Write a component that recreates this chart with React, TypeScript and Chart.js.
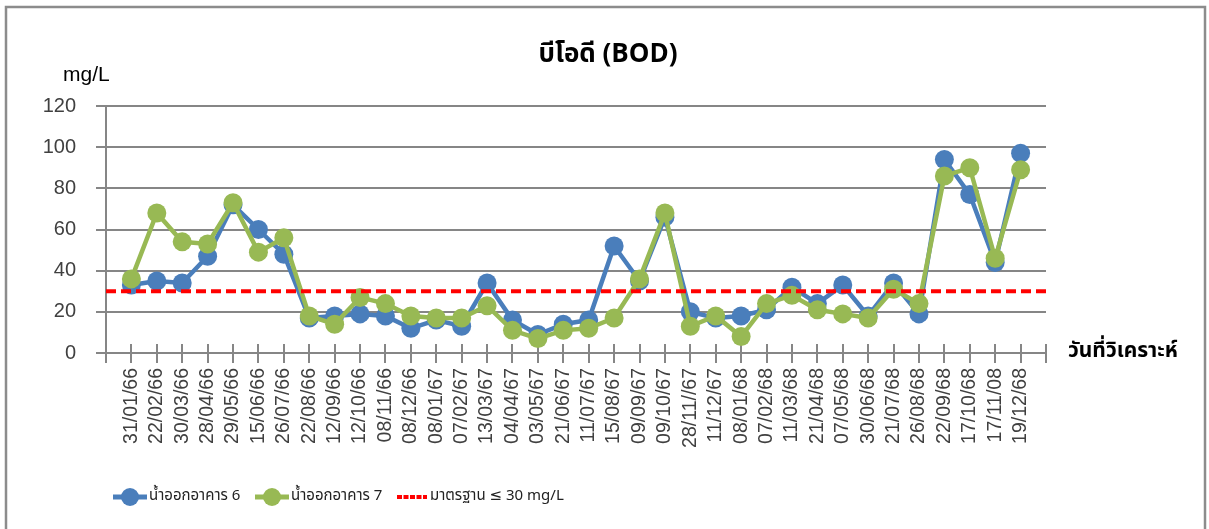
import React, { useEffect, useRef } from 'react';
import { Chart, registerables } from 'chart.js';

Chart.register(...registerables);

// ---------- data ----------
const dates = [
  '31/01/66', '22/02/66', '30/03/66', '28/04/66', '29/05/66', '15/06/66', '26/07/66', '22/08/66', '12/09/66',
  '12/10/66', '08/11/66', '08/12/66', '08/01/67', '07/02/67', '13/03/67', '04/04/67', '03/05/67', '21/06/67',
  '11/07/67', '15/08/67', '09/09/67', '09/10/67', '28/11//67', '11/12/67', '08/01/68', '07/02/68', '11/03/68',
  '21/04/68', '07/05/68', '30/06/68', '21/07/68', '26/08/68', '22/09/68', '17/10/68', '17/11/08', '19/12/68',
];
const building6 = [33, 35, 34, 47, 72, 60, 48, 17, 18, 19, 18, 12, 16, 13, 34, 16, 9, 14, 16, 52, 35, 66, 20, 17, 18, 21, 32, 24, 33, 18, 34, 19, 94, 77, 44, 97];
const building7 = [36, 68, 54, 53, 73, 49, 56, 18, 14, 27, 24, 18, 17, 17, 23, 11, 7, 11, 12, 17, 36, 68, 13, 18, 8, 24, 28, 21, 19, 17, 31, 24, 86, 90, 46, 89];
const standardLimit = 30;
const yMin = 0;
const yMax = 120;
const yStep = 20;

const chartTitle = 'บีโอดี (BOD)';
const yUnit = 'mg/L';
const xTitle = 'วันที่วิเคราะห์';
const seriesNames = ['น้ำออกอาคาร 6', 'น้ำออกอาคาร 7', 'มาตรฐาน ≤ 30 mg/L'];

// ---------- styles ----------
const BLUE = '#4A7EBB';
const GREEN = '#98B954';
const RED = '#FF0000';
const GRID = '#868686';
const THAI = '"Noto Sans Thai", "Noto Sans Thai UI", "Loma", "Garuda", "Tlwg Typist", "Noto Sans", "DejaVu Sans", sans-serif';
const LATIN = '"Liberation Sans", Arial, sans-serif';

export default function App() {
  const canvasRef = useRef<HTMLCanvasElement | null>(null);

  useEffect(() => {
    const canvas = canvasRef.current;
    if (!canvas) return;

    const labels = ['', ...dates, ''];
    const pad = (arr: number[]) => [null, ...arr, null];

    const decor = {
      id: 'decor',
      beforeDraw(chart: any) {
        const { ctx } = chart;
        ctx.save();
        ctx.strokeStyle = '#8c8c8c';
        ctx.lineWidth = 2.5;
        ctx.strokeRect(6, 7, 1199, 560);
        ctx.restore();
      },
      beforeDatasetsDraw(chart: any) {
        const { ctx, chartArea, scales } = chart;
        const xs = scales.x;
        ctx.save();
        ctx.strokeStyle = GRID;
        ctx.lineWidth = 2;
        ctx.beginPath();
        xs.ticks.forEach((_: any, i: number) => {
          const px = Math.round(xs.getPixelForTick(i));
          ctx.moveTo(px, chartArea.bottom - 9);
          ctx.lineTo(px, chartArea.bottom);
        });
        ctx.stroke();
        ctx.restore();
      },
      afterDraw(chart: any) {
        const { ctx, chartArea } = chart;
        ctx.save();
        // title
        ctx.fillStyle = '#000';
        ctx.textAlign = 'center';
        ctx.textBaseline = 'alphabetic';
        ctx.font = `bold 26px ${THAI}`;
        ctx.fillText(chartTitle, 608, 62);
        // y unit
        ctx.textAlign = 'left';
        ctx.font = `21px ${LATIN}`;
        ctx.fillText(yUnit, 63, 81);
        // x title
        ctx.font = `bold 21px ${THAI}`;
        ctx.textBaseline = 'middle';
        ctx.fillText(xTitle, chartArea.right + 22, chartArea.bottom);
        // legend
        const colors = [BLUE, GREEN, RED];
        const ly = 497;
        ctx.font = `15px ${THAI}`;
        colors.forEach((c, i) => {
          const x0 = 113 + i * 142;
          ctx.strokeStyle = c;
          ctx.fillStyle = c;
          if (i < 2) {
            ctx.lineWidth = 5;
            ctx.setLineDash([]);
            ctx.beginPath();
            ctx.moveTo(x0, ly);
            ctx.lineTo(x0 + 34, ly);
            ctx.stroke();
            ctx.beginPath();
            ctx.arc(x0 + 17, ly, 9, 0, Math.PI * 2);
            ctx.fill();
          } else {
            ctx.lineWidth = 4;
            ctx.setLineDash([5, 1.5]);
            ctx.beginPath();
            ctx.moveTo(x0, ly);
            ctx.lineTo(x0 + 30, ly);
            ctx.stroke();
            ctx.setLineDash([]);
          }
          ctx.fillStyle = '#222';
          ctx.textBaseline = 'middle';
          ctx.textAlign = 'left';
          ctx.fillText(seriesNames[i], x0 + (i < 2 ? 36 : 33), ly);
        });
        ctx.restore();
      },
    };

    const chart = new Chart(canvas, {
      type: 'line',
      data: {
        labels,
        datasets: [
          {
            label: seriesNames[2],
            data: labels.map(() => standardLimit),
            borderColor: RED,
            borderWidth: 4,
            borderDash: [10, 5],
            pointRadius: 0,
            order: 0,
          },
          {
            label: seriesNames[1],
            data: pad(building7),
            borderColor: GREEN,
            backgroundColor: GREEN,
            borderWidth: 4.5,
            pointRadius: 9.5,
            pointBorderWidth: 0,
            pointHoverRadius: 9.5,
            order: 1,
          },
          {
            label: seriesNames[0],
            data: pad(building6),
            borderColor: BLUE,
            backgroundColor: BLUE,
            borderWidth: 4.5,
            pointRadius: 9.5,
            pointBorderWidth: 0,
            pointHoverRadius: 9.5,
            order: 2,
          },
        ],
      },
      options: {
        responsive: false,
        animation: false,
        devicePixelRatio: 1,
        layout: { padding: { left: 0, top: 106, right: 163, bottom: 0 } },
        plugins: {
          legend: { display: false },
          title: { display: false },
          tooltip: { enabled: false },
        },
        elements: { line: { tension: 0 } },
        scales: {
          x: {
            type: 'category',
            offset: false,
            afterFit: (s: any) => { s.height = 176; },
            grid: {
              display: true,
              drawOnChartArea: false,
              drawTicks: true,
              tickLength: 10,
              color: GRID,
              lineWidth: 2,
            },
            border: { display: true, color: GRID, width: 2 },
            ticks: {
              autoSkip: false,
              minRotation: 90,
              maxRotation: 90,
              padding: 5,
              color: '#404040',
              font: { family: LATIN, size: 19.5 },
            },
          },
          y: {
            min: yMin,
            max: yMax,
            afterFit: (s: any) => { s.width = 106; },
            grid: {
              color: GRID,
              lineWidth: 2,
              drawTicks: true,
              tickLength: 10,
            },
            border: { display: true, color: GRID, width: 2 },
            ticks: {
              stepSize: yStep,
              padding: 20,
              color: '#404040',
              font: { family: LATIN, size: 20 },
            },
          },
        },
      },
      plugins: [decor],
    } as any);

    return () => chart.destroy();
  }, []);

  return (
    <div style={{ position: 'fixed', left: 0, top: 0, width: 1209, height: 529, background: '#fff' }}>
      <canvas ref={canvasRef} width={1209} height={529} style={{ display: 'block' }} />
    </div>
  );
}
